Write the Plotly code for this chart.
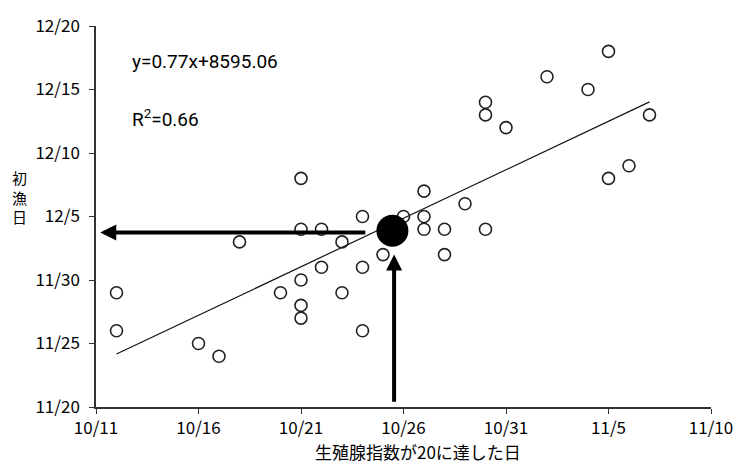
import numpy as np
import pandas as pd
import plotly.graph_objects as go

YEAR = 2000
# 生殖腺指数が20に達した日 (x) と 初漁日 (y)
gsi20_dates = ["10/12", "10/12", "10/16", "10/17", "10/18", "10/20", "10/21", "10/21", "10/21",
               "10/21", "10/21", "10/22", "10/22", "10/23", "10/23", "10/24", "10/24", "10/24",
               "10/25", "10/26", "10/27", "10/27", "10/27", "10/28", "10/28", "10/29", "10/30",
               "10/30", "10/30", "10/31", "11/2", "11/4", "11/5", "11/5", "11/6", "11/7"]
first_catch_dates = ["11/29", "11/26", "11/25", "11/24", "12/3", "11/29", "11/30", "11/28", "11/27",
                     "12/4", "12/8", "12/4", "12/1", "12/3", "11/29", "12/1", "11/26", "12/5",
                     "12/2", "12/5", "12/7", "12/5", "12/4", "12/4", "12/2", "12/6", "12/4",
                     "12/13", "12/14", "12/12", "12/16", "12/15", "12/18", "12/8", "12/9", "12/13"]

# predicted point (large black dot)
pred_x_date = "10/25 11:00"
pred_y_date = "12/3 21:00"
arrow_h_end_x = "10/11 05:00"
arrow_h_start_x = "10/24 05:00"
arrow_h_y = "12/3 18:00"
arrow_v_x = "10/25 13:00"
arrow_v_start_y = "11/20 07:00"
arrow_v_end_y = "12/2 00:00"

x_range = ["10/11", "11/10"]
y_range = ["11/20", "12/20"]
tick_step_days = 5

eq_text = "y=0.77x+8595.06"
r2_text = "R<sup>2</sup>=0.66"
x_title = "生殖腺指数が20に達した日"
y_title = "初<br>漁<br>日"


def to_dt(s):
    return pd.to_datetime(f"{YEAR}/{s}", format="%Y/%m/%d %H:%M" if ":" in s else "%Y/%m/%d")


xd = [to_dt(s) for s in gsi20_dates]
yd = [to_dt(s) for s in first_catch_dates]
x0 = to_dt(x_range[0])
y0 = to_dt(y_range[0])
xn = np.array([(d - x0) / pd.Timedelta(days=1) for d in xd])
yn = np.array([(d - y0) / pd.Timedelta(days=1) for d in yd])
slope, intercept = np.polyfit(xn, yn, 1)
lx = np.array([xn.min(), xn.max()])
ly = slope * lx + intercept
line_x = [x0 + pd.Timedelta(days=v) for v in lx]
line_y = [y0 + pd.Timedelta(days=v) for v in ly]

font_jp = "Noto Sans CJK JP, Noto Sans, sans-serif"
fig = go.Figure()
fig.add_trace(go.Scatter(x=line_x, y=line_y, mode="lines",
                         line=dict(color="#111111", width=1.2), hoverinfo="skip"))
fig.add_trace(go.Scatter(x=xd, y=yd, mode="markers",
                         marker=dict(symbol="circle-open", size=12, color="#222222",
                                     line=dict(width=1.6, color="#222222"))))
fig.add_trace(go.Scatter(x=[to_dt(pred_x_date)], y=[to_dt(pred_y_date)], mode="markers",
                         marker=dict(symbol="circle", size=32, color="black")))

fig.add_annotation(x=to_dt(arrow_h_end_x), y=to_dt(arrow_h_y), ax=to_dt(arrow_h_start_x), ay=to_dt(arrow_h_y),
                   xref="x", yref="y", axref="x", ayref="y", text="", showarrow=True,
                   arrowhead=2, arrowsize=0.8, arrowwidth=4, arrowcolor="black")
fig.add_annotation(x=to_dt(arrow_v_x), y=to_dt(arrow_v_end_y), ax=to_dt(arrow_v_x), ay=to_dt(arrow_v_start_y),
                   xref="x", yref="y", axref="x", ayref="y", text="", showarrow=True,
                   arrowhead=2, arrowsize=0.8, arrowwidth=4, arrowcolor="black")

fig.add_annotation(x=to_dt("10/12 16:00"), y=to_dt("12/17 05:00"), xref="x", yref="y",
                   text=eq_text, showarrow=False, xanchor="left", yanchor="middle",
                   font=dict(family="Liberation Sans Narrow, Roboto, sans-serif", size=19, color="black"))
fig.add_annotation(x=to_dt("10/12 16:00"), y=to_dt("12/12 17:00"), xref="x", yref="y",
                   text=r2_text, showarrow=False, xanchor="left", yanchor="middle",
                   font=dict(family="Liberation Sans Narrow, Roboto, sans-serif", size=19, color="black"))
fig.add_annotation(x=-0.125, y=0.552, xref="paper", yref="paper", xanchor="center", yanchor="middle",
                   text=y_title, showarrow=False,
                   font=dict(family=font_jp, size=15, color="black"))
fig.add_annotation(x=0.523, y=-0.117, xref="paper", yref="paper", xanchor="center", yanchor="middle",
                   text=x_title, showarrow=False,
                   font=dict(family=font_jp, size=17, color="black"))

fig.update_xaxes(type="date", range=[x0, to_dt(x_range[1])], tick0=x0, dtick=tick_step_days * 86400000,
                 tickformat="%-m/%-d", ticks="outside", ticklen=5, tickcolor="#333333",
                 ticklabelstandoff=0,
                 showline=True, linecolor="#333333", linewidth=1.5, showgrid=False, zeroline=False,
                 tickfont=dict(family=font_jp, size=17, color="black"))
fig.update_yaxes(type="date", range=[y0, to_dt(y_range[1])], tick0=y0, dtick=tick_step_days * 86400000,
                 tickformat="%-m/%-d", ticks="outside", ticklen=5, tickcolor="#333333",
                 ticklabelstandoff=6,
                 showline=True, linecolor="#333333", linewidth=1.5, showgrid=False, zeroline=False,
                 tickfont=dict(family=font_jp, size=17, color="black"))
fig.update_layout(width=745, height=464, margin=dict(l=96, r=26, t=17, b=57),
                  paper_bgcolor="white", plot_bgcolor="white", showlegend=False)
fig.write_html("out.html")
